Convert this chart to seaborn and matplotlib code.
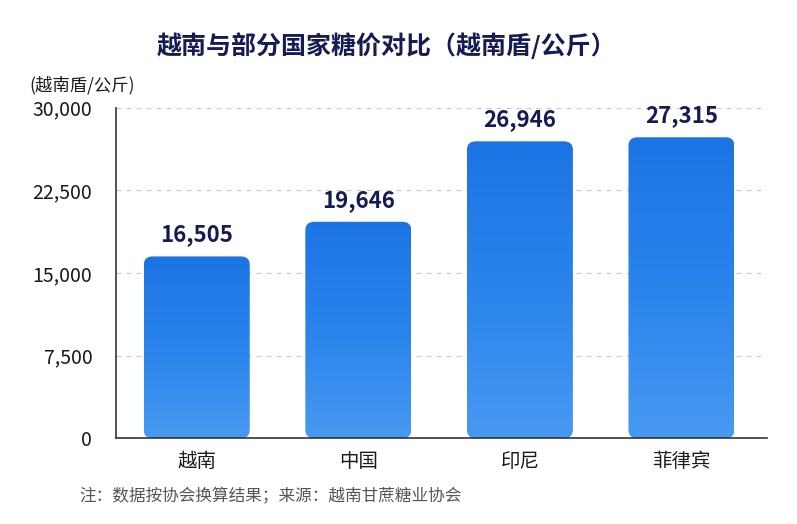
import numpy as np
import pandas as pd
import seaborn as sns
from matplotlib import pyplot as plt
from matplotlib.patches import FancyBboxPatch
from matplotlib.colors import LinearSegmentedColormap

countries = ["越南", "中国", "印尼", "菲律宾"]
prices = [16505, 19646, 26946, 27315]
y_ticks = [0, 7500, 15000, 22500, 30000]
y_tick_labels = ["0", "7,500", "15,000", "22,500", "30,000"]

title = "越南与部分国家糖价对比（越南盾/公斤）"
unit_label = "(越南盾/公斤)"
note = "注：数据按协会换算结果；来源：越南甘蔗糖业协会"

sns.set_style("white")
plt.rcParams['font.family'] = ['Noto Sans CJK SC', 'DejaVu Sans']

df = pd.DataFrame({"country": countries, "price": prices})

fig = plt.figure(figsize=(7.97, 5.24), dpi=100)
ax = fig.add_axes([0.1455, 0.1635, 0.817, 0.631])

sns.barplot(data=df, x="country", y="price", ax=ax, width=0.656, color="#2a7fe8")

navy = "#161b55"
cmap = LinearSegmentedColormap.from_list("bar", ["#4899f1", "#2a84ec", "#1c74e4"])
grad = np.linspace(0, 1, 256).reshape(-1, 1)

# swap the plain bars for rounded ones with a vertical gradient
for p in list(ax.patches):
    x0, w, h = p.get_x(), p.get_width(), p.get_height()
    p.remove()
    box = FancyBboxPatch((x0, 0), w, h, boxstyle="round,pad=0,rounding_size=0.055",
                         mutation_aspect=14000, facecolor="none", edgecolor="none")
    ax.add_patch(box)
    im = ax.imshow(grad, extent=[x0, x0 + w, 0, h], origin="lower", cmap=cmap,
                   aspect="auto", zorder=2)
    im.set_clip_path(box)
    ax.text(x0 + w / 2, h + 900, f"{int(h):,}", ha="center", va="bottom",
            fontsize=16, fontweight="bold", color=navy)

ax.set_xlim(-0.5, 3.53)
ax.set_ylim(0, 30000)

ax.set_yticks(y_ticks)
ax.set_yticklabels(y_tick_labels, fontsize=14, color="#1a1a1a")
ax.set_xticks(range(len(countries)))
ax.set_xticklabels(countries, fontsize=14, fontweight=500, color="#1a1a1a")
ax.tick_params(axis="both", length=0)
ax.tick_params(axis="y", pad=17)
ax.tick_params(axis="x", pad=9)
ax.set_xlabel("")
ax.set_ylabel("")

for y in y_ticks[1:]:
    ax.axhline(y, color="#cccccc", linestyle=(0, (4, 4)), linewidth=0.9, zorder=0)

sns.despine(ax=ax, top=True, right=True)
ax.spines["left"].set_color("#333333")
ax.spines["bottom"].set_color("#333333")
ax.spines["left"].set_linewidth(1.2)
ax.spines["bottom"].set_linewidth(1.2)

fig.text(0.485, 0.913, title, ha="center", va="center", fontsize=18,
         fontweight="heavy", color=navy)
fig.text(0.037, 0.838, unit_label, ha="left", va="center", fontsize=12.5, color="#1a1a1a")
fig.text(0.1, 0.051, note, ha="left", va="center", fontsize=12, color="#555555")

fig.savefig("out.png", dpi=100, facecolor="white")
